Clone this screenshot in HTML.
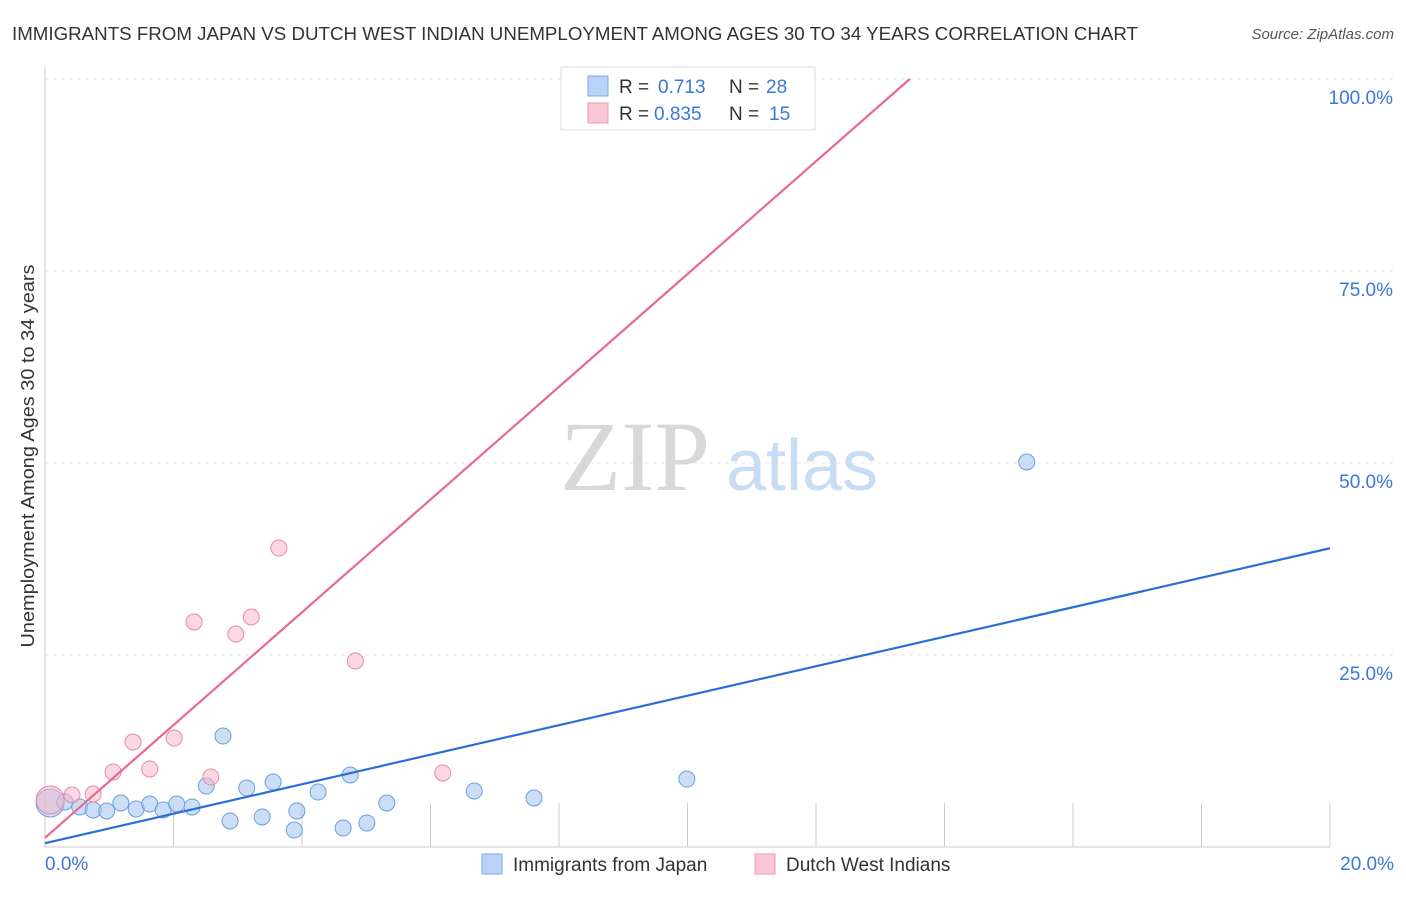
<!DOCTYPE html>
<html><head><meta charset="utf-8"><style>
body{margin:0;background:#fff;font-family:"Liberation Sans",sans-serif;}
</style></head><body>
<svg width="1406" height="892" viewBox="0 0 1406 892" xmlns="http://www.w3.org/2000/svg" font-family="Liberation Sans, sans-serif">
<text x="12" y="40" font-size="18" fill="#333" textLength="1126" lengthAdjust="spacingAndGlyphs">IMMIGRANTS FROM JAPAN VS DUTCH WEST INDIAN UNEMPLOYMENT AMONG AGES 30 TO 34 YEARS CORRELATION CHART</text>
<text x="1394" y="39" font-size="15" fill="#555" font-style="italic" text-anchor="end">Source: ZipAtlas.com</text>
<g id="grid"></g>
<g>
<text x="635" y="490" font-size="100" fill="#d8d8d8" style="font-family:'Liberation Serif',serif" text-anchor="middle">ZIP</text>
<text x="802" y="490" font-size="72" fill="#c8dcf4" text-anchor="middle">atlas</text>
</g>
<line x1="45" y1="67" x2="45" y2="847" stroke="#ccc"/>
<line x1="45" y1="847" x2="1330" y2="847" stroke="#ccc"/>
<g id="marks"></g>
<text x="34" y="456" font-size="18" fill="#333" text-anchor="middle" textLength="383" lengthAdjust="spacingAndGlyphs" transform="rotate(-90 34 456)">Unemployment Among Ages 30 to 34 years</text>
<text x="45" y="870" font-size="19" fill="#3a78d8">0.0%</text>
<text x="1394" y="870" font-size="19" fill="#3a78d8" text-anchor="end">20.0%</text>
<g>
<rect x="561" y="67" width="254" height="63" fill="#fff" stroke="#ddd"/>
<rect x="588" y="76" width="20" height="20" fill="#b8d3f5" stroke="#7aa8e6"/>
<rect x="588" y="103" width="20" height="20" fill="#f9c7d6" stroke="#ec9ab4"/>
<text x="619" y="93" font-size="19" fill="#333">R = </text><text x="658" y="93" font-size="19" fill="#3a78d8">0.713</text>
<text x="729" y="93" font-size="19" fill="#333">N = </text><text x="766" y="93" font-size="19" fill="#3a78d8">28</text>
<text x="619" y="120" font-size="19" fill="#333">R = </text><text x="654" y="120" font-size="19" fill="#3a78d8">0.835</text>
<text x="729" y="120" font-size="19" fill="#333">N = </text><text x="769" y="120" font-size="19" fill="#3a78d8">15</text>
</g>
<g>
<rect x="482" y="854" width="20" height="20" fill="#b8d3f5" stroke="#7aa8e6"/>
<text x="513" y="871" font-size="19" fill="#333">Immigrants from Japan</text>
<rect x="755" y="854" width="20" height="20" fill="#f9c7d6" stroke="#ec9ab4"/>
<text x="786" y="871" font-size="19" fill="#333">Dutch West Indians</text>
</g>
</svg>
<script>
const yTicks=[25,50,75,100];
const yTickLabels=["25.0%","50.0%","75.0%","100.0%"];
const xTicks=[2,4,6,8,10,12,14,16,18,20];
const japanX=[0.08,0.31,0.54,0.75,0.96,1.18,1.42,1.63,1.84,2.05,2.29,2.51,2.77,2.88,3.14,3.38,3.55,3.88,3.92,4.25,4.64,4.75,5.01,5.32,6.68,7.61,9.99,15.28];
const japanY=[5.73,5.86,5.21,4.82,4.69,5.73,4.95,5.60,4.82,5.60,5.21,7.94,14.45,3.39,7.68,3.91,8.46,2.21,4.69,7.16,2.47,9.38,3.13,5.73,7.29,6.38,8.85,50.13];
const dutchX=[0.08,0.42,0.75,1.06,1.37,1.63,2.01,2.32,2.58,2.97,3.21,3.64,4.83,6.19,10.66];
const dutchY=[6.12,6.77,6.90,9.77,13.67,10.16,14.19,29.30,9.11,27.73,29.95,38.93,24.22,9.64,100];
const japanLine=[0.5,38.9];
const dutchLine=[1.2,100.0];
const dutchLineEndX=13.46;
const NS="http://www.w3.org/2000/svg";
const sx=v=>45+v*64.25, sy=v=>847-v*7.68;
const grid=document.getElementById('grid'), marks=document.getElementById('marks');
function mk(t,a,p){const e=document.createElementNS(NS,t);for(const k in a)e.setAttribute(k,a[k]);p.appendChild(e);return e;}
yTicks.forEach((t,i)=>{
 const l=mk('line',{x1:45,x2:1394,y1:sy(t),y2:sy(t),stroke:'#e4e4e4','stroke-dasharray':'4,4'},grid);
 
 
 const tx=mk('text',{x:1393,y:sy(t)+25,'font-size':19,fill:'#3a78d8','text-anchor':'end'},grid);
 tx.textContent=yTickLabels[i];
 
 
});
xTicks.forEach(t=>{
 const l=mk('line',{x1:sx(t),x2:sx(t),y1:803,y2:847,stroke:'#ccc'},grid);
 
 
});
japanX.forEach((x,i)=>{
 const c=mk('circle',{cx:sx(x),cy:sy(japanY[i]),r:i==0?14:8,fill:'rgba(168,200,240,0.6)',stroke:'#6a9fe0','stroke-width':1},marks);
 
 
});
dutchX.forEach((x,i)=>{
 const c=mk('circle',{cx:sx(x),cy:sy(dutchY[i]),r:i==0?14:8,fill:'rgba(247,184,203,0.55)',stroke:'#e88aa8','stroke-width':1},marks);
 
 
});
const bl=mk('line',{x1:sx(0),y1:sy(japanLine[0]),x2:sx(20),y2:sy(japanLine[1]),stroke:'#2a6fd6','stroke-width':2.2},marks);


const pl=mk('line',{x1:sx(0),y1:sy(dutchLine[0]),x2:sx(dutchLineEndX),y2:sy(dutchLine[1]),stroke:'#e86890','stroke-width':2.2},marks);


</script>
</body></html>
